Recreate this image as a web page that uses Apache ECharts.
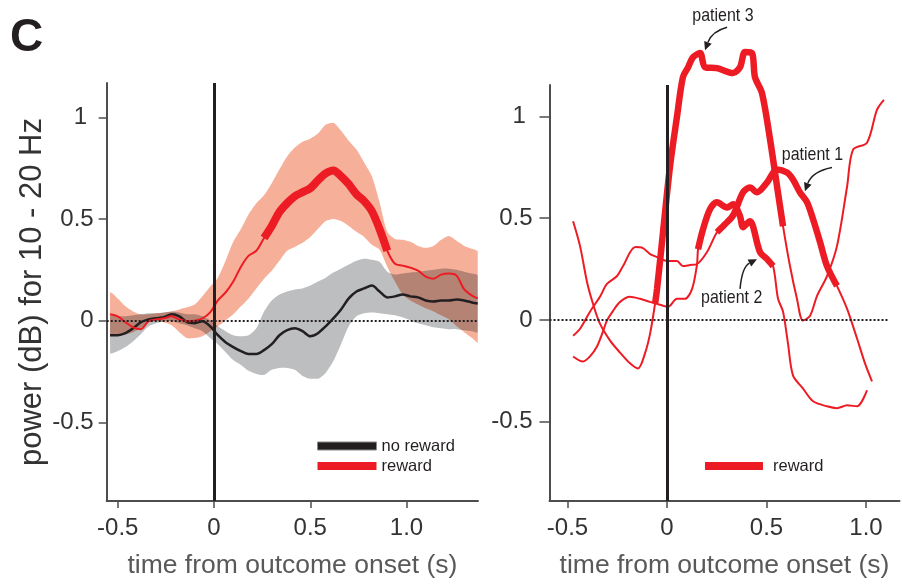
<!DOCTYPE html>
<html>
<head>
<meta charset="utf-8">
<script src="https://cdn.jsdelivr.net/npm/echarts@6/dist/echarts.min.js"></script>
<style>
html,body{margin:0;padding:0;background:#fff;}
#chart{width:902px;height:584px;}
</style>
</head>
<body>
<div id="chart"></div>
<script>
// ---- group average (left panel): time (s) vs. 10-20 Hz power (dB) ----
const timeAvg = [-0.54,-0.50,-0.46,-0.42,-0.38,-0.34,-0.30,-0.26,-0.22,-0.18,
  -0.14,-0.10,-0.06,-0.02,0.02,0.06,0.10,0.14,0.18,0.22,
  0.26,0.30,0.34,0.38,0.42,0.46,0.50,0.54,0.58,0.62,
  0.66,0.70,0.74,0.78,0.82,0.86,0.90,0.94,0.98,1.02,
  1.06,1.10,1.14,1.18,1.22,1.26,1.30,1.34,1.37];
const rewardMean = [0.032,0.022,-0.007,-0.032,-0.041,-0.002,0.007,0.012,0.022,0.007,
  -0.002,0.000,0.012,0.041,0.100,0.139,0.193,0.266,0.320,0.344,
  0.407,0.466,0.534,0.578,0.612,0.632,0.651,0.690,0.724,0.739,
  0.710,0.671,0.622,0.588,0.539,0.451,0.344,0.280,0.271,0.261,
  0.246,0.217,0.207,0.227,0.232,0.222,0.154,0.124,0.110];
const rewardUpper = [0.139,0.110,0.071,0.046,0.032,0.032,0.037,0.041,0.046,0.056,
  0.066,0.080,0.120,0.168,0.212,0.295,0.388,0.451,0.524,0.578,
  0.617,0.676,0.744,0.807,0.851,0.880,0.895,0.920,0.963,0.973,
  0.934,0.885,0.841,0.778,0.710,0.583,0.437,0.402,0.398,0.388,
  0.368,0.359,0.368,0.398,0.417,0.393,0.368,0.354,0.339];
const rewardLower = [-0.066,-0.071,-0.066,-0.056,-0.037,-0.007,-0.002,-0.007,-0.022,-0.056,
  -0.085,-0.085,-0.076,-0.051,-0.027,0.002,0.032,0.071,0.110,0.159,
  0.207,0.246,0.295,0.344,0.363,0.383,0.412,0.451,0.490,0.500,
  0.490,0.466,0.437,0.412,0.373,0.349,0.266,0.193,0.129,0.100,
  0.080,0.061,0.046,0.027,0.007,-0.027,-0.056,-0.085,-0.110];
const noRewardMean = [-0.071,-0.071,-0.061,-0.037,-0.007,0.007,0.012,0.017,0.032,0.022,
  -0.007,-0.012,-0.002,-0.027,-0.071,-0.105,-0.129,-0.149,-0.163,-0.163,
  -0.144,-0.115,-0.071,-0.046,-0.037,-0.051,-0.076,-0.061,-0.027,0.012,
  0.056,0.110,0.144,0.159,0.173,0.144,0.115,0.120,0.129,0.120,
  0.115,0.100,0.095,0.100,0.100,0.105,0.100,0.090,0.085];
const noRewardUpper = [0.022,0.022,0.022,0.027,0.032,0.037,0.037,0.041,0.046,0.041,
  0.032,0.032,0.022,0.002,-0.027,-0.051,-0.071,-0.076,-0.071,-0.037,
  0.046,0.100,0.129,0.144,0.154,0.159,0.173,0.193,0.212,0.237,
  0.256,0.276,0.295,0.305,0.300,0.290,0.241,0.227,0.232,0.237,
  0.241,0.246,0.251,0.256,0.256,0.251,0.241,0.232,0.222];
const noRewardLower = [-0.159,-0.149,-0.129,-0.100,-0.066,-0.027,-0.012,-0.002,-0.002,-0.012,
  -0.022,-0.037,-0.051,-0.085,-0.115,-0.154,-0.193,-0.217,-0.246,-0.261,
  -0.266,-0.241,-0.232,-0.232,-0.241,-0.271,-0.285,-0.285,-0.256,-0.198,
  -0.115,-0.027,0.022,0.037,0.041,0.037,0.032,0.027,0.017,0.002,
  -0.012,-0.022,-0.032,-0.037,-0.041,-0.041,-0.046,-0.051,-0.056];
// first and last index of the significant window (drawn thick)
const rewardSig = [20, 36];

// ---- single patients, reward trials (right panel) ----
const p1Time = [-0.472,-0.437,-0.387,-0.337,-0.302,-0.251,-0.221,-0.161,-0.121,-0.085,
  -0.050,0.000,0.050,0.080,0.116,0.151,0.201,0.251,0.291,0.332,
  0.382,0.417,0.452,0.503,0.553,0.603,0.633,0.668,0.704,0.734,
  0.769,0.804,0.854,0.905,0.955,0.995,1.030];
const p1Power = [-0.077,-0.043,0.041,0.114,0.177,0.216,0.265,0.358,0.353,0.324,
  0.309,0.290,0.290,0.265,0.270,0.275,0.334,0.431,0.470,0.514,
  0.627,0.651,0.627,0.676,0.739,0.724,0.690,0.627,0.578,0.495,
  0.383,0.265,0.168,0.055,-0.091,-0.213,-0.301];
const p1Sig = [17, 32];

const p2Time = [-0.472,-0.422,-0.387,-0.352,-0.322,-0.302,-0.271,-0.236,-0.186,-0.136,
  -0.085,-0.035,0.005,0.050,0.090,0.126,0.151,0.156,0.181,0.216,
  0.251,0.302,0.332,0.367,0.382,0.417,0.432,0.467,0.503,0.533,
  0.558,0.583,0.608,0.633,0.683,0.734,0.804,0.854,0.905,0.955,1.005];
const p2Power = [-0.179,-0.204,-0.179,-0.130,-0.057,-0.003,0.045,0.089,0.114,0.104,
  0.089,0.075,0.065,0.104,0.104,0.153,0.275,0.348,0.446,0.544,
  0.578,0.553,0.568,0.510,0.456,0.485,0.461,0.334,0.299,0.265,
  0.104,0.041,-0.116,-0.272,-0.336,-0.399,-0.424,-0.433,-0.419,-0.424,-0.345];
const p2Sig = [17, 29];

const p3Time = [-0.472,-0.437,-0.402,-0.372,-0.337,-0.286,-0.236,-0.186,-0.146,-0.111,
  -0.085,-0.060,-0.050,-0.020,0.015,0.050,0.080,0.106,0.131,0.166,
  0.191,0.251,0.332,0.367,0.392,0.427,0.442,0.477,0.518,0.553,
  0.583,0.618,0.653,0.683,0.719,0.754,0.804,0.854,0.905,0.935,
  1.005,1.055,1.090];
const p3Power = [0.485,0.363,0.187,0.080,-0.018,-0.101,-0.160,-0.213,-0.238,-0.165,
  -0.067,0.080,0.153,0.431,0.754,0.998,1.193,1.242,1.291,1.311,
  1.242,1.237,1.213,1.242,1.316,1.311,1.193,1.115,0.886,0.656,
  0.461,0.265,0.104,-0.003,0.021,0.119,0.216,0.363,0.656,0.837,
  0.871,1.032,1.081];
const p3Sig = [11, 30];

// ---- axis ticks ----
const xTicks = [-0.5, 0, 0.5, 1.0];
const yTicks = [-0.5, 0, 0.5, 1];

// ---- styling / layout ----
const FONT = "'Liberation Sans', Arial, Helvetica, sans-serif";
const RED = '#ed1c24';
const INK = '#231f20';
const AXIS = '#4d4d4d';
const leftX = [-0.5574, 1.3714], leftY = [-0.8854, 1.1683];
const rightX = [-0.5905, 1.1683], rightY = [-0.8891, 1.1544];
const zeroLineEnd = 1.115;

// callouts in the right panel, in data units
const callouts = [
  { text: 'patient 3', at: [0.281, 1.494], arrow: [[0.302, 1.438], [0.226, 1.418], [0.191, 1.325]] },
  { text: 'patient 1', at: [0.731, 0.810], arrow: [[0.829, 0.749], [0.729, 0.729], [0.693, 0.632]] },
  { text: 'patient 2', at: [0.325, 0.109], arrow: [[0.367, 0.153], [0.377, 0.261], [0.452, 0.299]] }
];

const pairs = (ts, vs) => ts.map((t, i) => [t, vs[i]]);

function bbox(pts) {
  const min = [Infinity, Infinity], max = [-Infinity, -Infinity];
  pts.forEach(p => {
    min[0] = Math.min(min[0], p[0]); min[1] = Math.min(min[1], p[1]);
    max[0] = Math.max(max[0], p[0]); max[1] = Math.max(max[1], p[1]);
  });
  return [min, max];
}

function bandSeries(name, gi, times, lower, upper, color, blend) {
  return {
    name: name, type: 'custom', xAxisIndex: gi, yAxisIndex: gi, silent: true,
    blendMode: blend || 'source-over',
    data: times.map((t, i) => [t, lower[i], upper[i]]),
    encode: { x: 0, y: [1, 2] },
    renderItem: function (params, api) {
      if (params.dataIndex !== 0) return null;
      const top = times.map((t, i) => api.coord([t, upper[i]]));
      const bot = times.map((t, i) => api.coord([t, lower[i]])).reverse();
      const pts = top.concat(bot);
      return {
        type: 'polygon',
        shape: { points: pts, smooth: 0.25, smoothConstraint: bbox(pts) },
        style: { fill: color }
      };
    }
  };
}

function lineSeries(name, gi, data, color, width, extra) {
  return Object.assign({
    name: name, type: 'line', xAxisIndex: gi, yAxisIndex: gi,
    data: data, symbol: 'none', smooth: 0.3, silent: true,
    lineStyle: { color: color, width: width, cap: 'butt' },
    itemStyle: { color: color }
  }, extra || {});
}

function xAxisCfg(gi, range) {
  return {
    type: 'value', gridIndex: gi, min: range[0], max: range[1],
    name: 'time from outcome onset (s)', nameLocation: 'middle', nameGap: 51,
    nameTextStyle: { fontSize: 26.5, color: '#595959', fontFamily: FONT },
    axisLine: { show: true, onZero: false, lineStyle: { color: AXIS, width: 2 } },
    axisTick: { show: true, length: 7, customValues: xTicks, lineStyle: { color: AXIS, width: 1.5 } },
    axisLabel: {
      customValues: xTicks, margin: 15, fontSize: 24, color: '#333', fontFamily: FONT,
      formatter: v => (v === 1 ? '1.0' : String(v))
    },
    splitLine: { show: false }
  };
}

function yAxisCfg(gi, range, tickLen, margin, withName) {
  const cfg = {
    type: 'value', gridIndex: gi, min: range[0], max: range[1],
    axisLine: { show: true, onZero: false, lineStyle: { color: AXIS, width: 2 } },
    axisTick: { show: true, length: tickLen, customValues: yTicks, lineStyle: { color: AXIS, width: 1.5 } },
    axisLabel: {
      customValues: yTicks, margin: margin, fontSize: 24, color: '#333', fontFamily: FONT,
      formatter: v => (v === 1 ? '1 ' : String(v))
    },
    splitLine: { show: false }
  };
  if (withName) {
    Object.assign(cfg, {
      name: 'power (dB) for 10 - 20 Hz', nameLocation: 'middle', nameGap: 52, nameRotate: 90,
      nameTextStyle: { fontSize: 31, color: '#333', fontFamily: FONT }
    });
  }
  return cfg;
}

const zeroStyle = { type: [2, 2], width: 2, color: INK };
const leftMarks = {
  silent: true, symbol: 'none', label: { show: false },
  data: [
    { xAxis: 0, lineStyle: { type: 'solid', width: 3, color: INK } },
    { yAxis: 0, lineStyle: zeroStyle }
  ]
};
const rightMarks = {
  silent: true, symbol: 'none', label: { show: false },
  data: [
    { xAxis: 0, lineStyle: { type: 'solid', width: 3, color: INK } },
    [{ coord: [rightX[0], 0], lineStyle: zeroStyle }, { coord: [zeroLineEnd, 0] }]
  ]
};

const rewardPts = pairs(timeAvg, rewardMean);
const patients = [[p1Time, p1Power, p1Sig], [p2Time, p2Power, p2Sig], [p3Time, p3Power, p3Sig]];

const series = [
  bandSeries('reward', 0, timeAvg, rewardLower, rewardUpper, '#f6b09a'),
  bandSeries('no reward', 0, timeAvg, noRewardLower, noRewardUpper, '#bcbec0', 'multiply'),
  lineSeries('no reward', 0, pairs(timeAvg, noRewardMean), INK, 2.5, { markLine: leftMarks }),
  lineSeries('reward', 0, rewardPts, RED, 2),
  lineSeries('reward', 0, rewardPts.slice(rewardSig[0], rewardSig[1] + 1), RED, 8)
];
patients.forEach(([ts, vs, sig], k) => {
  const pts = pairs(ts, vs);
  series.push(lineSeries('reward', 1, pts, RED, 2, k === 0 ? { clip: false, markLine: rightMarks } : { clip: false }));
});
patients.forEach(([ts, vs, sig]) => {
  const pts = pairs(ts, vs);
  series.push(lineSeries('reward', 1, pts.slice(sig[0], sig[1] + 1), RED, 6.5, { clip: false }));
});

const option = {
  animation: false,
  backgroundColor: '#fff',
  title: {
    text: 'C', left: 10, top: 15, padding: 0,
    textStyle: { fontSize: 46, fontWeight: 'bold', color: INK, fontFamily: FONT }
  },
  grid: [
    { left: 106.7, top: 83, width: 371.3, height: 421 },
    { left: 549.5, top: 85, width: 350, height: 418.3 }
  ],
  xAxis: [xAxisCfg(0, leftX), xAxisCfg(1, rightX)],
  yAxis: [yAxisCfg(0, leftY, 8, 13, true), yAxisCfg(1, rightY, 10, 17, false)],
  legend: [
    {
      left: 317, top: 437, padding: 0, orient: 'vertical', itemWidth: 59, itemHeight: 8, itemGap: 2,
      icon: 'rect', selectedMode: false,
      textStyle: { fontSize: 16.5, lineHeight: 18, color: INK, fontFamily: FONT },
      data: [
        { name: 'no reward', itemStyle: { color: INK, borderColor: '#8a8a8a', borderWidth: 1 } },
        { name: 'reward', itemStyle: { color: RED, borderWidth: 0 } }
      ]
    },
    {
      left: 705, top: 457, padding: 0, itemWidth: 58, itemHeight: 8, icon: 'rect', selectedMode: false,
      textStyle: { fontSize: 16.5, lineHeight: 18, color: INK, fontFamily: FONT, padding: [0, 0, 0, 5] },
      data: [{ name: 'reward', itemStyle: { color: RED, borderWidth: 0 } }]
    }
  ],
  series: series
};

const chart = echarts.init(document.getElementById('chart'), null, { renderer: 'canvas' });
chart.setOption(option);

// callout labels and curved arrows, placed through the right grid's scales
const toPx = p => chart.convertToPixel({ gridIndex: 1 }, p);
const graphics = [];
callouts.forEach(c => {
  const at = toPx(c.at);
  const [s, cp, e] = c.arrow.map(toPx);
  let dx = e[0] - cp[0], dy = e[1] - cp[1];
  const len = Math.hypot(dx, dy) || 1; dx /= len; dy /= len;
  const headL = 8.5, headW = 4;
  const base = [e[0] - dx * headL, e[1] - dy * headL];
  graphics.push({
    type: 'text', x: at[0], y: at[1], scaleX: 0.84, silent: true,
    style: { text: c.text, fill: INK, font: '19px ' + FONT, align: 'center', verticalAlign: 'middle', textAlign: 'center', textVerticalAlign: 'middle' }
  });
  graphics.push({
    type: 'bezierCurve', silent: true,
    shape: { x1: s[0], y1: s[1], cpx1: cp[0], cpy1: cp[1], x2: base[0], y2: base[1] },
    style: { stroke: INK, lineWidth: 1.5, fill: null }
  });
  graphics.push({
    type: 'polygon', silent: true,
    shape: { points: [e, [base[0] - dy * headW, base[1] + dx * headW], [base[0] + dy * headW, base[1] - dx * headW]] },
    style: { fill: INK }
  });
});
chart.setOption({ graphic: graphics });
</script>
</body>
</html>
